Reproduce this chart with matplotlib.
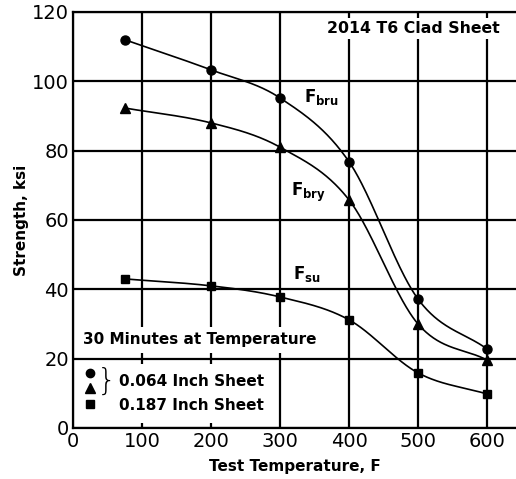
import matplotlib
matplotlib.use("Agg")
import matplotlib.pyplot as plt
import numpy as np

# values
temps = [75, 200, 300, 400, 500, 600]
f_bru = [112.0, 103.3, 95.2, 76.8, 37.2, 22.8]
f_bry = [92.3, 88.0, 81.0, 65.8, 30.0, 19.6]
f_su = [43.0, 41.0, 37.8, 31.2, 15.9, 9.8]

x_ticks = [0, 100, 200, 300, 400, 500, 600]
y_ticks = [0, 20, 40, 60, 80, 100, 120]


def smooth(x, y, xs):
    # cubic hermite with catmull-rom style tangents
    x = np.asarray(x, float)
    y = np.asarray(y, float)
    h = np.diff(x)
    m = np.empty_like(y)
    m[1:-1] = (y[2:] - y[:-2]) / (x[2:] - x[:-2])
    m[0] = (y[1] - y[0]) / h[0]
    m[-1] = (y[-1] - y[-2]) / h[-1]
    idx = np.clip(np.searchsorted(x, xs) - 1, 0, len(h) - 1)
    t = (xs - x[idx]) / h[idx]
    h00 = 2 * t**3 - 3 * t**2 + 1
    h10 = t**3 - 2 * t**2 + t
    h01 = -2 * t**3 + 3 * t**2
    h11 = t**3 - t**2
    return (h00 * y[idx] + h10 * h[idx] * m[idx]
            + h01 * y[idx + 1] + h11 * h[idx] * m[idx + 1])


fig = plt.figure(figsize=(5.16, 4.79), dpi=100)
ax = fig.add_axes([0.1415, 0.1065, 0.8585, 0.8685])

xs = np.linspace(temps[0], temps[-1], 400)
for vals, mk, ms in [(f_bru, 'o', 6.5), (f_bry, '^', 7), (f_su, 's', 6)]:
    ax.plot(xs, smooth(temps, vals, xs), color='black', lw=1.2, zorder=4)
    ax.plot(temps, vals, ls='none', marker=mk, ms=ms, color='black', zorder=5)

ax.set_xlim(0, 642)
ax.set_ylim(0, 120)
ax.set_xticks(x_ticks)
ax.set_yticks(y_ticks)
ax.grid(True, color='black', lw=1.6)
ax.set_axisbelow(True)
for side in ['left', 'bottom', 'top']:
    ax.spines[side].set_linewidth(1.6)
ax.spines['right'].set_visible(False)
ax.tick_params(length=0, labelsize=14, pad=3)

ax.set_xlabel('Test Temperature, F', fontsize=11, fontweight='bold', labelpad=6)
ax.set_ylabel('Strength, ksi', fontsize=11, fontweight='bold', labelpad=2)

box = dict(facecolor='white', edgecolor='none', pad=2)
ax.text(619, 115.3, '2014 T6 Clad Sheet', fontsize=11.3, fontweight='bold',
        ha='right', va='center', bbox=box, zorder=3)
ax.text(335, 95.5, r'F$_{\mathbf{bru}}$', fontsize=12, fontweight='bold', va='center')
ax.text(316, 68.0, r'F$_{\mathbf{bry}}$', fontsize=12, fontweight='bold', va='center')
ax.text(319, 44.5, r'F$_{\mathbf{su}}$', fontsize=12, fontweight='bold', va='center')

ax.text(14, 25.5, '30 Minutes at Temperature', fontsize=11, fontweight='bold',
        va='center', bbox=dict(facecolor='white', edgecolor='none', pad=4), zorder=3)
ax.add_patch(plt.Rectangle((3, 1.5), 285, 17, facecolor='white', edgecolor='none', zorder=2))
ax.plot([25], [15.8], 'o', color='black', ms=6, zorder=5)
ax.plot([25], [11.5], '^', color='black', ms=6.5, zorder=5)
ax.plot([25], [6.8], 's', color='black', ms=5.5, zorder=5)
ax.text(48, 13.4, '}', fontsize=22, fontweight='light', va='center', ha='center', zorder=3)
ax.text(66, 13.5, '0.064 Inch Sheet', fontsize=11, fontweight='bold', va='center', zorder=3)
ax.text(66, 6.4, '0.187 Inch Sheet', fontsize=11, fontweight='bold', va='center', zorder=3)

fig.savefig('out.png', dpi=100)
